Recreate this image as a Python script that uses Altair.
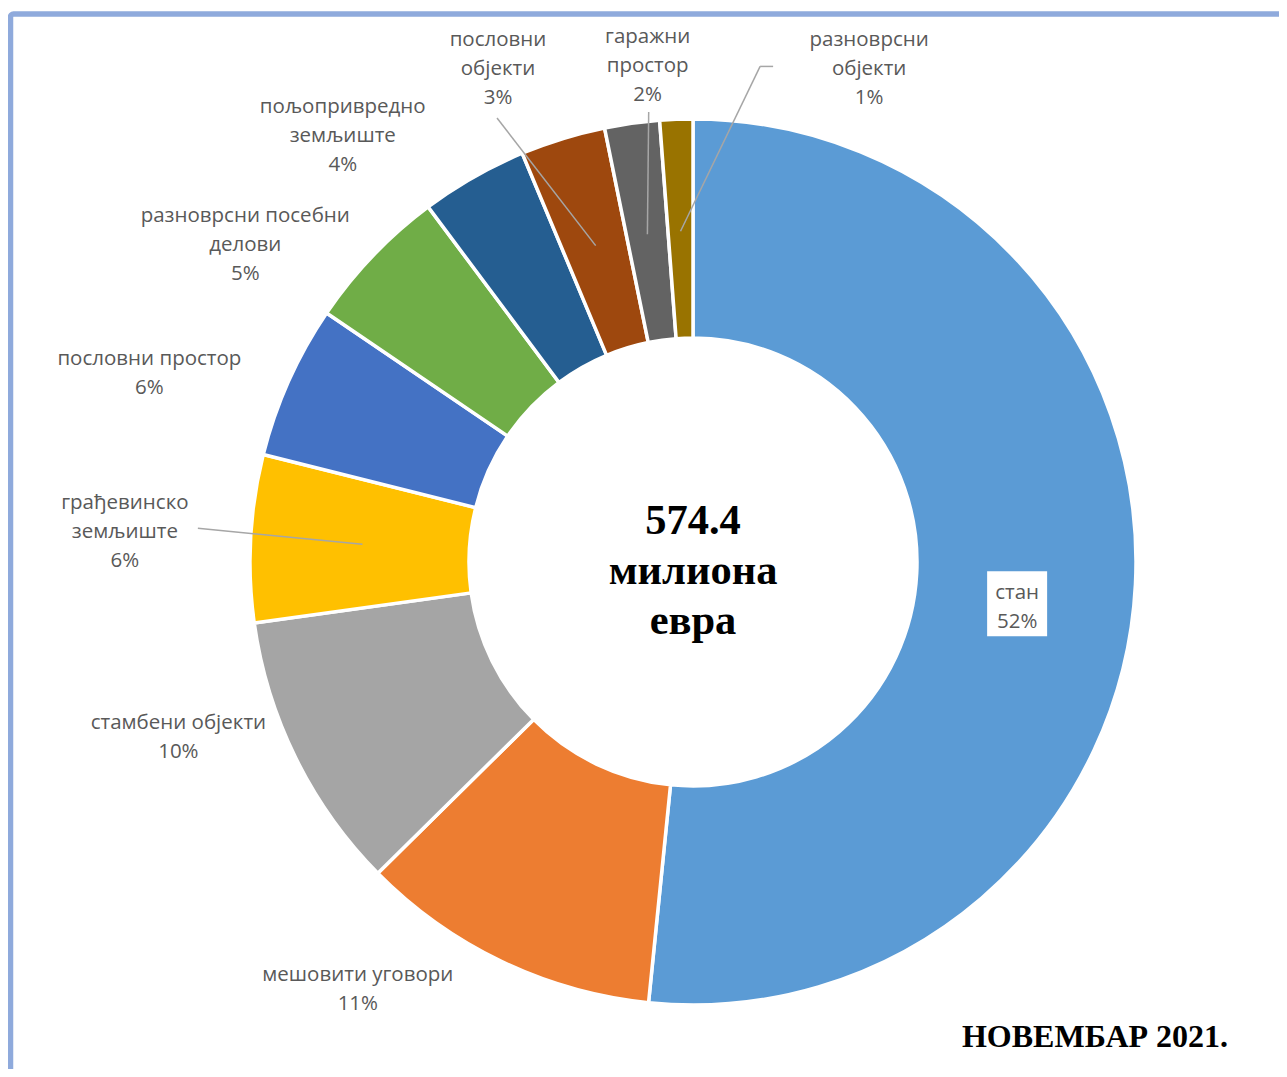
import math
import altair as alt
import pandas as pd

# ---------------- data ----------------
categories = ["стан", "мешовити уговори", "стамбени објекти", "грађевинско земљиште",
              "пословни простор", "разноврсни посебни делови", "пољопривредно земљиште",
              "пословни објекти", "гаражни простор", "разноврсни објекти"]
label_lines = ["стан", "мешовити уговори", "стамбени објекти", "грађевинско\nземљиште",
               "пословни простор", "разноврсни посебни\nделови", "пољопривредно\nземљиште",
               "пословни\nобјекти", "гаражни\nпростор", "разноврсни\nобјекти"]
shares = [51.6, 11.0, 10.2, 6.1, 5.6, 5.3, 3.9, 3.1, 2.0, 1.2]
total_text = "574.4\nмилиона\nевра"
period_text = "НОВЕМБАР 2021."

# ---------------- style / placement ----------------
colors = ["#5B9BD5", "#ED7D31", "#A5A5A5", "#FFC000", "#4472C4", "#70AD47",
          "#255E91", "#9E480E", "#636363", "#997300"]
label_angle = [97.6, 218.2, 251.4, 273.2, 289.3, 305.5, 320.7, 338.5, 354.8, 19.6]
label_radius = [327, 542, 543, 569, 576, 550, 553, 532, 500, 525]
leader_anchor = {3: [(73, -2)], 7: [(-1, 51)], 8: [(1, 48)], 9: [(-96, -1), (-109, -1)]}
leader_inner_r = 331

W, H = 1271, 1061
CX, CY = 685, 554
R_OUT, R_IN = 443, 224
LABEL_FONT = "Open Sans"
LABEL_SIZE = 20.5
LABEL_LH = 29
LABEL_NUDGE = 2
LABEL_COLOR = "#595959"


def polar(deg, r):
    a = math.radians(deg)
    return r * math.sin(a), -r * math.cos(a)


# ---------------- derived tables ----------------
pct = [round(v) for v in shares]
texts = [f"{l}\n{p}%" for l, p in zip(label_lines, pct)]
lab_x, lab_y = [], []
for ang, r, t in zip(label_angle, label_radius, texts):
    x, y = polar(ang, r)
    n = t.count("\n") + 1
    lab_x.append(x)
    lab_y.append(y - (n - 1) * LABEL_LH / 2 + LABEL_NUDGE)

df = pd.DataFrame({
    "idx": list(range(len(categories))),
    "cat": categories,
    "value": shares,
    "txt": texts,
    "lx": lab_x,
    "ly": lab_y,
})

total = sum(shares)
cum = 0.0
mids = []
for v in shares:
    mids.append((cum + v / 2) / total * 360)
    cum += v

segs = []
for i, anchors in leader_anchor.items():
    lx, ly = polar(label_angle[i], label_radius[i])
    pts = [(lx + dx, ly + dy) for dx, dy in anchors]
    pts.append(polar(mids[i], leader_inner_r))
    for (x1, y1), (x2, y2) in zip(pts[:-1], pts[1:]):
        segs.append({"x": x1, "y": y1, "x2": x2, "y2": y2})
seg_df = pd.DataFrame(segs)

bx, by = polar(label_angle[0], label_radius[0])
box_df = pd.DataFrame([{"x": bx - 30, "x2": bx + 30, "y": by - 34, "y2": by + 31}])

xs = alt.Scale(domain=[-CX, W - CX], range=[0, W])
ys = alt.Scale(domain=[-CY, H - CY], range=[0, H])

frame = alt.Chart(pd.DataFrame({"a": [0]})).mark_rect(
    filled=False, stroke="#8FAADC", strokeWidth=5.5, cornerRadius=3
).encode(x=alt.value(2.5), x2=alt.value(W + 40), y=alt.value(6), y2=alt.value(H + 40))

arcs = alt.Chart(df).mark_arc(
    outerRadius=R_OUT, innerRadius=R_IN, stroke="white", strokeWidth=3.5
).encode(
    theta=alt.Theta("value:Q", stack=True),
    color=alt.Color("cat:N", scale=alt.Scale(domain=categories, range=colors), legend=None),
    order=alt.Order("idx:Q"),
    x=alt.value(CX), y=alt.value(CY),
)

leaders = alt.Chart(seg_df).mark_rule(color="#A6A6A6", strokeWidth=1.5).encode(
    x=alt.X("x:Q", scale=xs, axis=None), x2="x2:Q",
    y=alt.Y("y:Q", scale=ys, axis=None), y2="y2:Q",
)

box = alt.Chart(box_df).mark_rect(color="white").encode(
    x=alt.X("x:Q", scale=xs, axis=None), x2="x2:Q",
    y=alt.Y("y:Q", scale=ys, axis=None), y2="y2:Q",
)

labels = alt.Chart(df).mark_text(
    font=LABEL_FONT, fontSize=LABEL_SIZE, color=LABEL_COLOR, lineBreak="\n",
    lineHeight=LABEL_LH, align="center", baseline="middle"
).encode(
    x=alt.X("lx:Q", scale=xs, axis=None),
    y=alt.Y("ly:Q", scale=ys, axis=None),
    text="txt:N",
)

center = alt.Chart(pd.DataFrame({"t": [total_text]})).mark_text(
    font="Liberation Serif", fontSize=42.5, fontWeight="bold", color="black",
    lineBreak="\n", lineHeight=50, align="center", baseline="middle"
).encode(text="t:N", x=alt.value(CX), y=alt.value(CY - 41))

title = alt.Chart(pd.DataFrame({"t": [period_text]})).mark_text(
    font="Liberation Serif", fontSize=32, fontWeight="bold", color="black",
    align="center", baseline="middle"
).encode(text="t:N", x=alt.value(1087), y=alt.value(1029))

chart = alt.layer(frame, arcs, leaders, box, labels, center, title).properties(
    width=W, height=H, autosize=alt.AutoSizeParams(type="none"), padding=0,
    background="white"
).configure_view(stroke=None)

chart.save("out.html", embed_options={"renderer": "svg", "actions": False})
